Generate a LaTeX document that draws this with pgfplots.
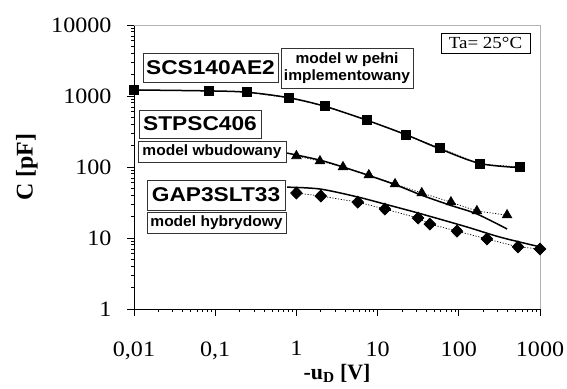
\documentclass[border=0pt]{standalone}
\usepackage{pgfplots}
\pgfplotsset{compat=1.18}
\usepackage{fontspec}
\setmainfont{Liberation Serif}
\newfontfamily\arial{Liberation Sans}
\usepackage{graphicx}
\newcommand{\bigtxt}[1]{{\arial\bfseries\fontsize{20}{22}\selectfont\scalebox{1.14}[1]{#1}}}
\newcommand{\smalltxt}[1]{{\arial\bfseries\fontsize{15}{20}\selectfont\scalebox{1.04}[1]{#1}}}
\newcommand{\sx}[1]{\scalebox{1.1}[1]{#1}}
\begin{document}
\begin{tikzpicture}[x=1bp,y=1bp]
\path[use as bounding box] (-134,-79) rectangle (433,309);
\begin{axis}[
  at={(0,0)}, anchor=south west,
  scale only axis, width=406bp, height=284bp,
  xmode=log, ymode=log,
  xmin=0.01, xmax=1000, ymin=1, ymax=10000,
  axis x line*=bottom, axis y line*=left,
  axis line style={-, black, line width=0.8bp},
  xtick={0.01,0.1,1,10,100,1000},
  xticklabels={\sx{0,01},\sx{0,1},\sx{1},\sx{10},\sx{100},\sx{1000}},
  ytick={1,10,100,1000,10000},
  yticklabels={\sx{1},\sx{10},\sx{100},\sx{1000},\sx{10000}},
  minor tick num=0, minor xtick={}, minor ytick={},
  tick align=outside, major tick length=7bp,
  tick style={black, line width=0.8bp},
  ticklabel style={font=\fontsize{22}{26}\selectfont},
  xticklabel style={yshift=-22bp},
  yticklabel style={xshift=-12bp},
  /pgf/number format/assume math mode=true,
  xlabel={\textbf{-u\textsubscript{D} [V]}},
  ylabel={\textbf{C [pF]}},
  every axis x label/.style={at={(rel axis cs:0.5,0)}, yshift=-64bp, anchor=center, font=\fontsize{22}{26}\selectfont},
  every axis y label/.style={at={(rel axis cs:0,0.5)}, xshift=-107bp, rotate=90, anchor=center, font=\fontsize{24}{26}\selectfont},
  clip=false,
]
\draw[gray!60, line width=0.8bp] (rel axis cs:0,1) -- (rel axis cs:1,1) -- (rel axis cs:1,0);
% SCS140AE2 measured
\addplot[black, line width=0.7bp, dash pattern=on 1.2bp off 1.6bp, mark=square*, mark size=4.5bp, mark options={solid}] coordinates {
 (0.01,1216) (0.084,1175) (0.246,1138) (0.81,937) (2.25,723) (7.4,459) (22.4,282) (58.6,185) (182,110) (568,100)};
\addplot[black, line width=1.5bp, smooth, no marks] coordinates {
 (0.01,1216) (0.084,1180) (0.246,1130) (0.81,945) (2.25,715) (7.4,455) (22.4,285) (58.6,180) (182,112) (568,98)};
% STPSC406
\addplot[black, line width=0.7bp, dash pattern=on 1.2bp off 1.6bp, mark=triangle*, mark size=5.5bp, mark options={solid}] coordinates {
 (1.0,143) (1.95,121) (3.75,100) (7.8,77) (16.4,57.6) (35,43) (80,32) (167,24) (393,21)};
\addplot[black, line width=1.5bp, smooth, no marks] coordinates {
 (0.77,157) (1.95,125) (3.75,100) (8.05,75) (16.9,55.8) (35,40) (78,29) (167,21.8) (393,13.4)};
% GAP3SLT33
\addplot[black, line width=0.7bp, dash pattern=on 1.2bp off 1.6bp, mark=diamond*, mark size=6bp, mark options={solid, xscale=1.3}] coordinates {
 (1.0,43) (2.0,39) (5.7,32) (12.3,25.6) (31.5,19.1) (44,15.7) (95,12.5) (222,9.7) (536,7.5) (1000,7.0)};
\addplot[black, line width=1.5bp, smooth, no marks] coordinates {
 (0.77,52) (1.95,49) (5.7,37.8) (12.3,30) (31.5,22.5) (126,14.3) (321,10.3) (1000,7.5)};
\end{axis}
\tikzset{lbl/.style={draw=black!80, line width=0.8bp, fill=white, inner sep=0pt, align=center}}
\node[lbl, minimum width=135bp, minimum height=29bp] at (76.5,241.5) {\bigtxt{SCS140AE2}};
\node[lbl, minimum width=132bp, minimum height=40bp] at (213,241) {\smalltxt{\begin{tabular}{@{}c@{}}model w pełni\\[-3pt] implementowany\end{tabular}}};
\node[lbl, minimum width=122bp, minimum height=28bp] at (66,185) {\bigtxt{STPSC406}};
\node[lbl, minimum width=148bp, minimum height=21bp] at (78,157.5) {\smalltxt{model wbudowany}};
\node[lbl, minimum width=138bp, minimum height=30bp] at (82,114) {\bigtxt{GAP3SLT33}};
\node[lbl, minimum width=139bp, minimum height=21bp] at (82.5,86.5) {\smalltxt{model hybrydowy}};
\node[draw=black, line width=0.8bp, fill=white, inner sep=0pt, minimum width=89bp, minimum height=20bp] at (351.5,266) {\fontsize{17}{18}\selectfont\scalebox{1.12}[1]{Ta= 25°C}};
\end{tikzpicture}
\end{document}
